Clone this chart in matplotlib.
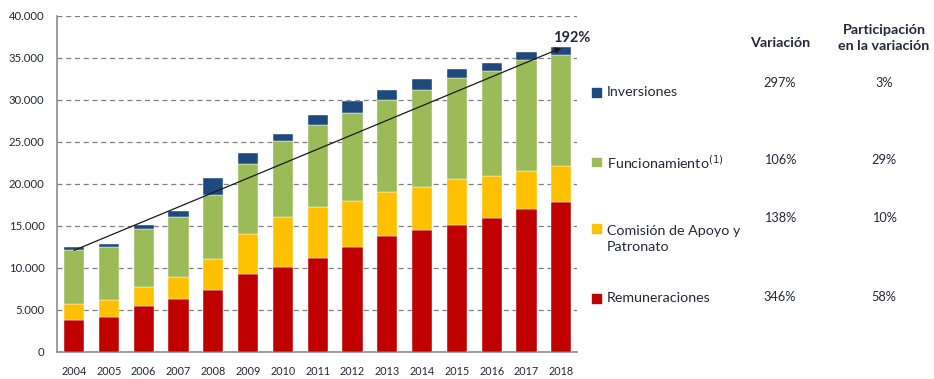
import matplotlib
matplotlib.use("Agg")
import matplotlib.pyplot as plt
from matplotlib.patches import Rectangle
from matplotlib.ticker import FuncFormatter
import numpy as np

years = [str(y) for y in range(2004, 2019)]
remuneraciones = [3850, 4130, 5440, 6350, 7340, 9250, 10160, 11190, 12460, 13810, 14560, 15160, 15950, 17060, 17820]
comision = [1900, 2100, 2300, 2580, 3770, 4800, 5910, 6070, 5560, 5280, 5120, 5440, 4960, 4530, 4320]
funcionamiento = [6430, 6230, 6900, 7140, 7620, 8370, 9010, 9720, 10430, 10950, 11470, 12060, 12540, 13210, 13260]
inversiones = [280, 360, 480, 720, 2020, 1270, 910, 1230, 1390, 1150, 1310, 1070, 950, 910, 910]

trend_start = 12100
trend_end = 36200
total_growth = "192%"

series_names = ["Inversiones", "Funcionamiento$^{(1)}$", "Comisión de Apoyo y\nPatronato", "Remuneraciones"]
variacion = ["297%", "106%", "138%", "346%"]
participacion = ["3%", "29%", "10%", "58%"]

c_red = "#C00000"
c_yel = "#FFC000"
c_grn = "#9BBB59"
c_blu = "#1F497D"
txt = "#23283a"

plt.rcParams["font.family"] = ["Lato", "DejaVu Sans"]

fig = plt.figure(figsize=(9.34, 3.79), dpi=100)
H = 379.0
W = 934.0
ax = fig.add_axes([57 / W, 1 - 352 / H, (577 - 57) / W, (352 - 16) / H])

x = np.arange(len(years))
bw = 0.58
r = np.array(remuneraciones)
c = np.array(comision)
f = np.array(funcionamiento)
i = np.array(inversiones)
kw = dict(width=bw, edgecolor="white", linewidth=0.3, zorder=3)
ax.bar(x, r, color=c_red, **kw)
ax.bar(x, c, bottom=r, color=c_yel, **kw)
ax.bar(x, f, bottom=r + c, color=c_grn, **kw)
ax.bar(x, i, bottom=r + c + f, color=c_blu, **kw)

ax.set_xlim(-0.49, 14.45)
ax.set_ylim(0, 40000)
ax.set_yticks(np.arange(0, 40001, 5000))
ax.yaxis.set_major_formatter(FuncFormatter(lambda v, p: "0" if v == 0 else f"{int(v):,}".replace(",", ".")))
ax.set_xticks(x)
ax.set_xticklabels(years)
ax.tick_params(axis="both", length=0, colors=txt)
ax.tick_params(axis="y", pad=9, labelsize=8.2)
ax.tick_params(axis="x", pad=10, labelsize=7.8)

ax.grid(axis="y", linestyle=(0, (4, 3)), color="#7f7f7f", linewidth=0.9, zorder=1)
for s in ["top", "right"]:
    ax.spines[s].set_visible(False)
for s in ["left", "bottom"]:
    ax.spines[s].set_color("#8c8c8c")
    ax.spines[s].set_linewidth(1.2)

ax.annotate("", xy=(14, trend_end), xytext=(0, trend_start),
            arrowprops=dict(arrowstyle="-|>", color="#1a1a1a", lw=0.9,
                            mutation_scale=9, shrinkA=0, shrinkB=0),
            zorder=5, annotation_clip=False)
ax.text(14.3, 37400, total_growth, ha="center", va="center", fontsize=10.5,
        fontweight="bold", color=txt, zorder=6)

# legend with variation table
fs = 10.3
colors = [c_blu, c_grn, c_yel, c_red]
label_y = [92, 162, 228, 298]
val_y = [83, 160, 218, 297]
for col, name, ly, vy, v, p in zip(colors, series_names, label_y, val_y, variacion, participacion):
    fig.patches.append(Rectangle((592 / W, 1 - (ly + 4.5) / H), 8.5 / W, 8.5 / H,
                                 transform=fig.transFigure, color=col))
    if "\n" in name:
        fig.text(607 / W, 1 - (ly + 11) / H, name, ha="left", va="center", fontsize=fs,
                 color=txt, linespacing=1.45)
    else:
        fig.text(607 / W, 1 - ly / H, name, ha="left", va="center", fontsize=fs, color=txt)
    fig.text(780 / W, 1 - vy / H, v, ha="center", va="center", fontsize=9.2, color=txt)
    fig.text(884 / W, 1 - vy / H, p, ha="center", va="center", fontsize=9.2, color=txt)

fig.text(780 / W, 1 - 43 / H, "Variación", ha="center", va="center", fontsize=fs,
         fontweight="bold", color=txt)
fig.text(884 / W, 1 - 38 / H, "Participación\nen la variación", ha="center", va="center",
         fontsize=fs, fontweight="bold", color=txt, linespacing=1.3)

fig.savefig("out.png", dpi=100)
